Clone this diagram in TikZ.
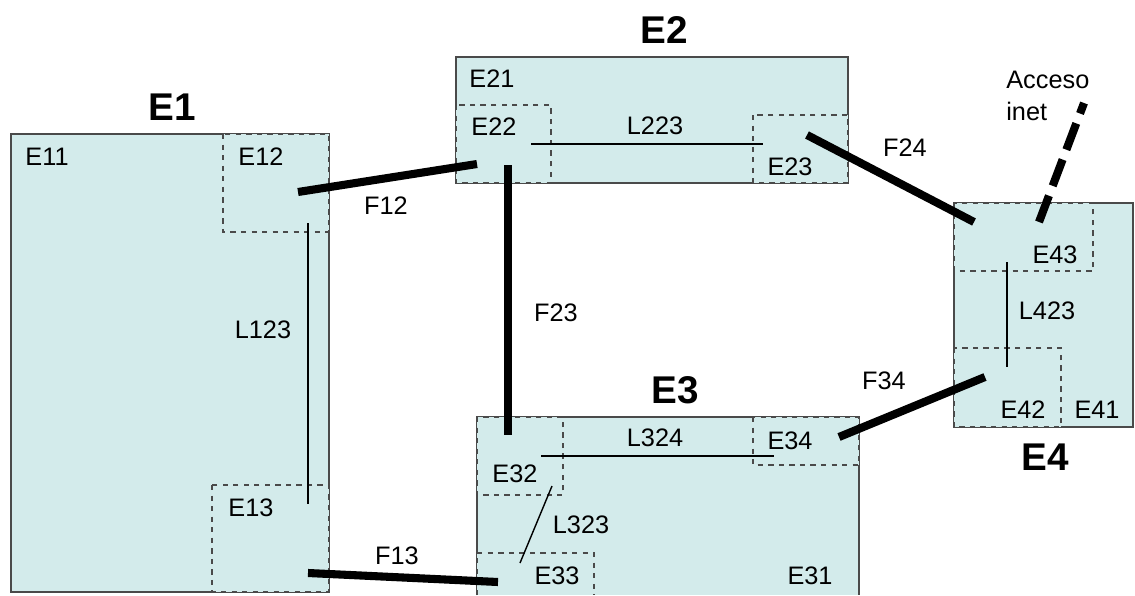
\documentclass[tikz,border=0pt]{standalone}
\usepackage{fontspec}
\setmainfont{Liberation Sans}
\definecolor{zonafill}{HTML}{D3EBEB}
\definecolor{borde}{HTML}{4A4A4A}
\begin{document}
\begin{tikzpicture}
[x=0.02cm,y=-0.02cm,
 zona/.style={fill=zonafill,draw=borde,line width=0.8pt},
 sub/.style={fill=zonafill,draw=borde,dashed,line width=0.6pt},
 enlace/.style={line width=0.8pt},
 fisico/.style={line width=4.6pt},
 titulo/.style={font=\fontsize{22}{26}\selectfont\bfseries,inner sep=0pt},
 etq/.style={font=\fontsize{14.4}{18}\selectfont,inner sep=0pt}]
\useasboundingbox (0,0) rectangle (1135,595);
% E1
\draw[zona] (11,134) rectangle (329,592);
\draw[sub] (223,134) rectangle (329,232);
\draw[sub] (212,485) rectangle (329,592);
% E2
\draw[zona] (456,57) rectangle (848,183);
\draw[sub] (456,105) rectangle (551,183);
\draw[sub] (753,115) rectangle (848,183);
% E3
\fill[zonafill] (477,417) rectangle (859,595);
\draw[borde,line width=0.8pt] (477,595)--(477,417)--(859,417)--(859,595);
\draw[sub] (477,417) rectangle (563,495);
\draw[sub] (753,417) rectangle (859,465);
\fill[zonafill] (477,553) rectangle (594,595);
\draw[sub] (477,595)--(477,553)--(594,553)--(594,595);
% E4
\draw[zona] (954,203) rectangle (1133,427);
\draw[sub] (954,203) rectangle (1093,271);
\draw[sub] (954,348) rectangle (1061,427);
% titulos
\node[titulo] (t1) at (172,107) {E1};
\node[titulo] (t2) at (664,30) {E2};
\node[titulo] (t3) at (675,390) {E3};
\node[titulo] (t4) at (1045,457) {E4};
% etiquetas
\node[etq] (e11) at (47,157) {E11};
\node[etq] (e12) at (261,157) {E12};
\node[etq] (e13) at (251,508) {E13};
\node[etq] (e21) at (492,79) {E21};
\node[etq] (e22) at (494,127) {E22};
\node[etq] (e23) at (790,167) {E23};
\node[etq] (e31) at (810,576) {E31};
\node[etq] (e32) at (515,474) {E32};
\node[etq] (e33) at (557,576) {E33};
\node[etq] (e34) at (790,441) {E34};
\node[etq] (e41) at (1097,410) {E41};
\node[etq] (e42) at (1023,410) {E42};
\node[etq] (e43) at (1055,255) {E43};
\node[etq] (l123) at (263,330) {L123};
\node[etq] (l223) at (655,126) {L223};
\node[etq] (l324) at (655,438) {L324};
\node[etq] (l323) at (581,525) {L323};
\node[etq] (l423) at (1047,311) {L423};
\node[etq] (f12) at (386,206) {F12};
\node[etq] (f13) at (397,556) {F13};
\node[etq] (f23) at (556,313) {F23};
\node[etq] (f24) at (905,148) {F24};
\node[etq] (f34) at (884,381) {F34};
\node[etq,anchor=west,align=left] (inet) at (1006,96) {Acceso\\inet};
% extremos
\coordinate (a123) at (308,223); \coordinate (b123) at (308,504);
\coordinate (a223) at (531,144); \coordinate (b223) at (763,144);
\coordinate (a324) at (541,456); \coordinate (b324) at (774,456);
\coordinate (a323) at (552,486); \coordinate (b323) at (520,563);
\coordinate (a423) at (1007,262); \coordinate (b423) at (1007,367);
\coordinate (a12) at (298,192); \coordinate (b12) at (477,164);
\coordinate (a13) at (308,573); \coordinate (b13) at (498,582);
\coordinate (a23) at (508,165); \coordinate (b23) at (508,435);
\coordinate (a24) at (807,135); \coordinate (b24) at (974,222);
\coordinate (a34) at (839,437); \coordinate (b34) at (985,377);
\coordinate (ai) at (1039,222); \coordinate (bi) at (1084,103);
% enlaces logicos
\draw[enlace] (a123) -- (b123);
\draw[enlace] (a223) -- (b223);
\draw[enlace] (a324) -- (b324);
\draw[enlace] (a323) -- (b323);
\draw[enlace] (a423) -- (b423);
% enlaces fisicos
\draw[fisico] (a12) -- (b12);
\draw[fisico] (a13) -- (b13);
\draw[fisico] (a23) -- (b23);
\draw[fisico] (a24) -- (b24);
\draw[fisico] (a34) -- (b34);
\draw[fisico,dash pattern=on 16pt off 6pt] (ai) -- (bi);
\end{tikzpicture}
\end{document}
